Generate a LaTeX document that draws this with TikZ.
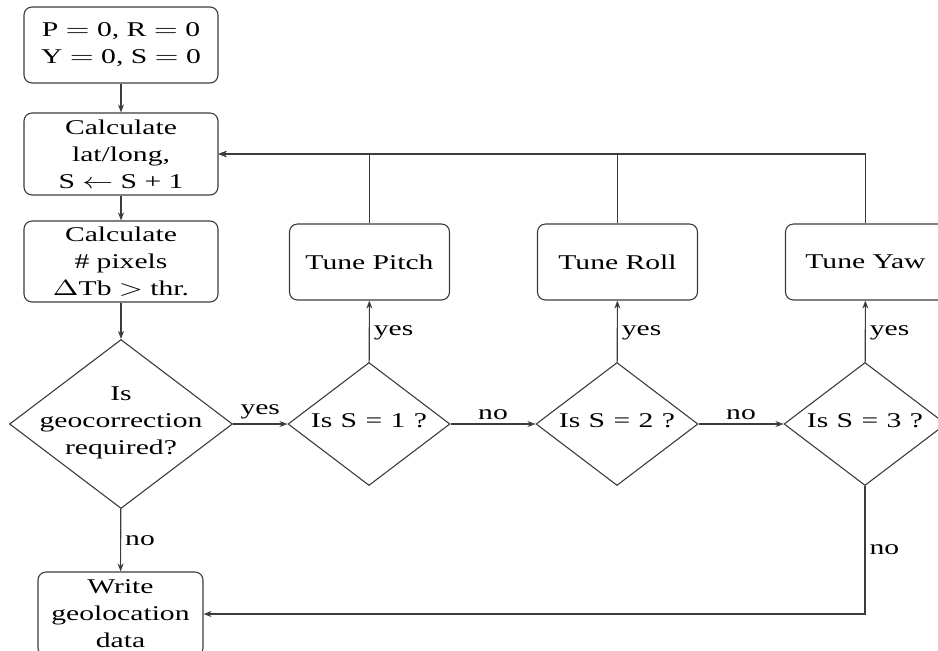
\documentclass[tikz,border=0pt]{standalone}
\usepackage{fontspec}
\setmainfont{Liberation Serif}[FakeStretch=1.41]
\usetikzlibrary{shapes.geometric,arrows.meta}
\newcommand{\dtxt}[1]{\makebox[0pt]{\raisebox{-3.2pt}{\smash{\begin{tabular}{@{}c@{}}#1\end{tabular}}}}}
\newcommand{\sx}[1]{\scalebox{1.41}[1]{$#1$}}
\newcommand{\eqs}{\sx{=}}
\newcommand{\ws}{\hspace{4.2pt}}
\definecolor{linec}{HTML}{3C3C3C}
\begin{document}
\begin{tikzpicture}[x=0.5pt,y=-0.5pt,
  every node/.style={font=\fontsize{10.5}{13.5}\selectfont},
  procbox/.style={draw=linec, line width=0.55pt, rounded corners=4pt, align=center, inner sep=2pt},
  decide/.style={draw=linec, line width=0.55pt, diamond, inner sep=0pt},
  conn/.style={draw=linec, line width=0.55pt, -{Stealth[length=4pt,width=3pt]}},
  lab/.style={inner sep=2pt}]
\useasboundingbox (0,0) rectangle (938,650);
\clip (0,0) rectangle (938,650);

\node[procbox, minimum width=97pt, minimum height=38pt] (init) at (121,45) {P \eqs{} 0, R \eqs{} 0\\Y \eqs{} 0, S \eqs{} 0};
\node[procbox, minimum width=97pt, minimum height=41pt] (calc) at (121,154) {Calculate\\lat/long,\\S \sx{\leftarrow} S + 1};
\node[procbox, minimum width=97pt, minimum height=40.5pt] (pix) at (121,261.5) {Calculate\\\# pixels\\\sx{\Delta}Tb \sx{>} thr.};
\node[decide, minimum width=111.5pt, minimum height=84.5pt] (geo) at (121,424) {\dtxt{Is\\geocorrection\\required?}};
\node[procbox, minimum width=82.5pt, minimum height=42pt] (write) at (120.5,614) {Write\\geolocation\\data};

\node[decide, minimum width=81pt, minimum height=61.5pt] (s1) at (369,424) {\dtxt{Is\ws S\ws =\ws 1\ws ?}};
\node[decide, minimum width=81pt, minimum height=61.5pt] (s2) at (617,424) {\dtxt{Is\ws S\ws =\ws 2\ws ?}};
\node[decide, minimum width=81pt, minimum height=61.5pt] (s3) at (865,424) {\dtxt{Is\ws S\ws =\ws 3\ws ?}};

\node[procbox, minimum width=80pt, minimum height=38pt] (pitch) at (369.5,262) {Tune Pitch};
\node[procbox, minimum width=80pt, minimum height=38pt] (roll) at (617.5,262) {Tune Roll};
\node[procbox, minimum width=80pt, minimum height=38pt] (yaw) at (865.5,262) {Tune Yaw};

\draw[conn] (init) -- (calc);
\draw[conn] (calc) -- (pix);
\draw[conn] (pix) -- (geo);
\draw[conn] (geo) -- node[lab, right, pos=0.5] {no} (write);
\draw[conn] (geo) -- node[lab, above] {yes} (s1);
\draw[conn] (s1) -- node[lab, above] {no} (s2);
\draw[conn] (s2) -- node[lab, above] {no} (s3);
\draw[conn] (s1) -- node[lab, right, pos=0.47] {yes} (pitch);
\draw[conn] (s2) -- node[lab, right, pos=0.47] {yes} (roll);
\draw[conn] (s3) -- node[lab, right, pos=0.47] {yes} (yaw);
\draw[conn] (pitch.north) |- (calc.east);
\draw[conn] (roll.north) |- (calc.east);
\draw[conn] (yaw.north) |- (calc.east);
\draw[conn] (s3.south) |- node[lab, right, pos=0.25] {no} (write.east);
\end{tikzpicture}
\end{document}
